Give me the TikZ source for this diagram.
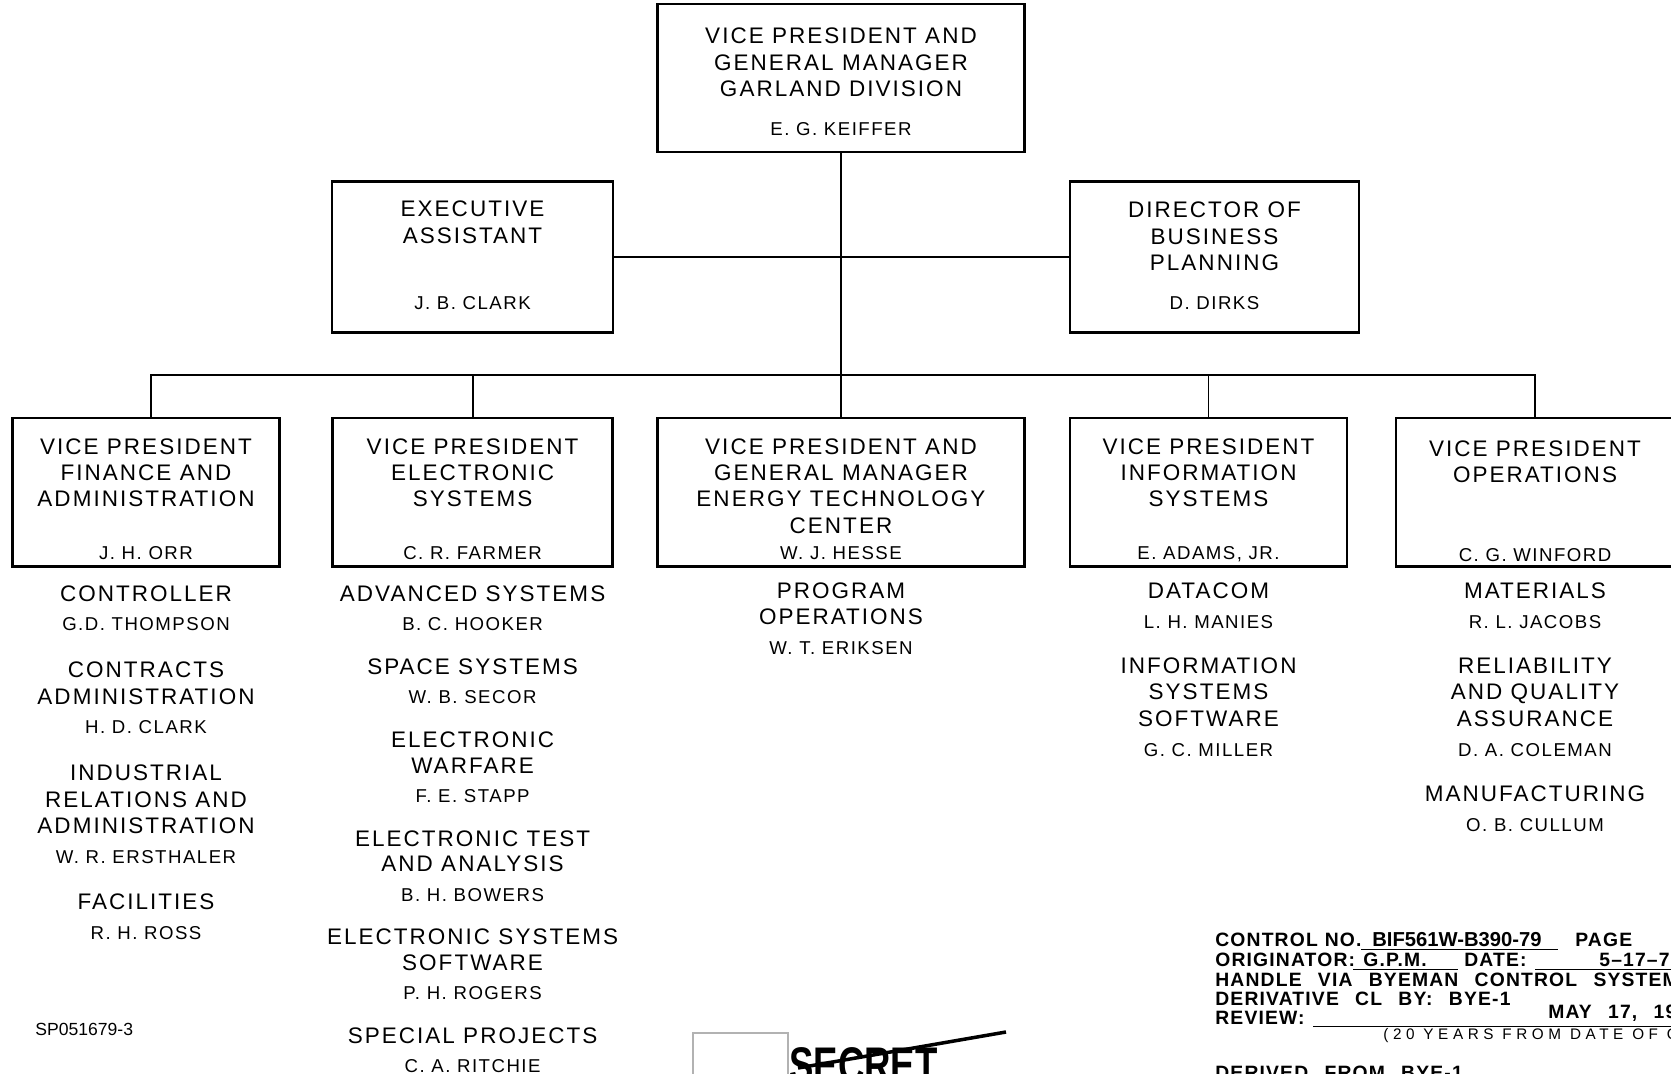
\documentclass[tikz,border=0pt]{standalone}
\usepackage{fontspec}
\setmainfont{Liberation Sans}
\newfontfamily\ttlfont[LetterSpace=9]{Liberation Sans}
\newfontfamily\nmfont[LetterSpace=8]{Liberation Sans}
\newfontfamily\ctlfont[LetterSpace=6,WordSpace=2.5]{Liberation Sans}
\newfontfamily\smlfont[LetterSpace=30]{Liberation Sans}
\usepackage{tikz}
\usetikzlibrary{positioning}
\newcommand{\who}[1]{{\nmfont\fontsize{10.6}{12}\selectfont #1}}

\begin{document}
\begin{tikzpicture}[x=0.02cm, y=-0.02cm, node distance=16pt,
  box/.style={draw, line width=1.6pt, minimum height=2.98cm, inner sep=0pt},
  ttl/.style={font=\ttlfont\fontsize{12.8}{15}\selectfont, align=center, inner sep=0pt},
  lst/.style={font=\ttlfont\fontsize{12.8}{#1}\selectfont, align=center, inner sep=0pt},
  lst/.default=15pt,
  nm/.style={font=\nmfont\fontsize{10.6}{12}\selectfont, inner sep=0pt, text depth=0pt},
  wire/.style={line width=1.1pt},
  ctl/.style={font=\ctlfont\bfseries\fontsize{11}{12}\selectfont, inner sep=0pt, anchor=base west},
  uline/.style={line width=0.6pt}]
  \useasboundingbox (0,0) rectangle (1671,1074);
  \clip (0,0) rectangle (1671,1074);

  \node[box, minimum width=7.34cm, minimum height=2.96cm] (gm) at (841,78) {};
  \node[ttl, below=0.5cm of gm.north] (gmt) {VICE PRESIDENT AND\\GENERAL MANAGER\\GARLAND DIVISION};
  \node[nm, above=0.36cm of gm.south] (gmn) {E. G. KEIFFER};

  \node[box, minimum width=5.62cm, minimum height=3.03cm] (ea) at (472.5,257) {};
  \node[ttl, below=0.42cm of ea.north] (eat) {EXECUTIVE\\ASSISTANT};
  \node[nm, above=0.48cm of ea.south] (ean) {J. B. CLARK};

  \node[box, minimum width=5.78cm, minimum height=3.03cm] (bp) at (1214.5,257) {};
  \node[ttl, below=0.44cm of bp.north] (bpt) {DIRECTOR OF\\BUSINESS\\PLANNING};
  \node[nm, above=0.48cm of bp.south] (bpn) {D. DIRKS};

  \node[box, minimum width=5.33cm] (fin) at (146,492.4) {};
  \node[ttl, below=0.43cm of fin.north] {VICE PRESIDENT\\FINANCE AND\\ADMINISTRATION};
  \node[nm, above=0.17cm of fin.south] {J. H. ORR};

  \node[box, minimum width=5.61cm] (els) at (472.6,492.4) {};
  \node[ttl, below=0.43cm of els.north] {VICE PRESIDENT\\ELECTRONIC\\SYSTEMS};
  \node[nm, above=0.17cm of els.south] {C. R. FARMER};

  \node[box, minimum width=7.33cm] (etc) at (841,492.4) {};
  \node[ttl, below=0.43cm of etc.north] {VICE PRESIDENT AND\\GENERAL MANAGER\\ENERGY TECHNOLOGY\\CENTER};
  \node[nm, above=0.17cm of etc.south] {W. J. HESSE};

  \node[box, minimum width=5.54cm] (ifs) at (1208.5,492.4) {};
  \node[ttl, below=0.43cm of ifs.north] {VICE PRESIDENT\\INFORMATION\\SYSTEMS};
  \node[nm, above=0.17cm of ifs.south] {E. ADAMS, JR.};

  \node[box, minimum width=5.56cm] (ops) at (1535,492.4) {};
  \node[ttl, below=0.47cm of ops.north] {VICE PRESIDENT\\OPERATIONS};
  \node[nm, above=0.12cm of ops.south] {C. G. WINFORD};

  \coordinate (bus) at (841,375);
  \draw[wire] (gm.south) -- (etc.north);
  \draw[wire] (ea.east) -- (bp.west);
  \draw[wire] ([xshift=0.1cm]fin.north) |- (bus) -| (ops.north);
  \draw[wire] (els.north) -- (els.north |- bus);
  \draw[wire] (ifs.north) -- (ifs.north |- bus);

  \node[lst=15.3pt, below=0.34cm of fin.south] (f1) {CONTROLLER\\[1.5pt]\who{G.D. THOMPSON}};
  \node[lst=15.3pt, below=17pt of f1] (f2) {CONTRACTS\\ADMINISTRATION\\[1.5pt]\who{H. D. CLARK}};
  \node[lst=15.3pt, below=17pt of f2] (f3) {INDUSTRIAL\\RELATIONS AND\\ADMINISTRATION\\[1.5pt]\who{W. R. ERSTHALER}};
  \node[lst=15.3pt, below=17pt of f3] (f4) {FACILITIES\\[1.5pt]\who{R. H. ROSS}};

  \node[lst=14.5pt, below=0.34cm of els.south] (e1) {ADVANCED SYSTEMS\\[2.2pt]\who{B. C. HOOKER}};
  \node[lst=14.5pt, below=15.5pt of e1] (e2) {SPACE SYSTEMS\\[2.2pt]\who{W. B. SECOR}};
  \node[lst=14.5pt, below=15.5pt of e2] (e3) {ELECTRONIC\\WARFARE\\[2.2pt]\who{F. E. STAPP}};
  \node[lst=14.5pt, below=15.5pt of e3] (e4) {ELECTRONIC TEST\\AND ANALYSIS\\[2.2pt]\who{B. H. BOWERS}};
  \node[lst=14.5pt, below=15.5pt of e4] (e5) {ELECTRONIC SYSTEMS\\SOFTWARE\\[2.2pt]\who{P. H. ROGERS}};
  \node[lst=14.5pt, below=15.5pt of e5] (e6) {SPECIAL PROJECTS\\[2.2pt]\who{C. A. RITCHIE}};

  \node[lst, below=0.28cm of etc.south] (t1) {PROGRAM\\OPERATIONS\\[1.7pt]\who{W. T. ERIKSEN}};

  \node[lst=15.2pt, below=0.28cm of ifs.south] (i1) {DATACOM\\[2pt]\who{L. H. MANIES}};
  \node[lst=15.2pt, below=of i1] (i2) {INFORMATION\\SYSTEMS\\SOFTWARE\\[2pt]\who{G. C. MILLER}};

  \node[lst=15.2pt, below=0.28cm of ops.south] (o1) {MATERIALS\\[2pt]\who{R. L. JACOBS}};
  \node[lst=15.2pt, below=of o1] (o2) {RELIABILITY\\AND QUALITY\\ASSURANCE\\[2pt]\who{D. A. COLEMAN}};
  \node[lst=15.2pt, below=of o2] (o3) {MANUFACTURING\\[2pt]\who{O. B. CULLUM}};

  \node[anchor=west, inner sep=0pt, font=\fontsize{10}{12}\selectfont] (spn) at (35,1029.5) {SP051679-3};

  \draw[gray!60, line width=0.6pt] (693,1033) rectangle (788,1100);
  \node[anchor=north west, inner sep=0pt, font=\bfseries\fontsize{28.5}{30}\selectfont] (sec) at (789,1047) {\scalebox{0.73}[1]{SECRET}};
  \draw[line width=2pt] (798,1068) -- (1006,1032);

  \node[ctl] (cno) at (1215,946) {CONTROL\kern4pt NO.};
  \node[ctl, font=\bfseries\fontsize{11.5}{12}\selectfont] (cval) at (1372,946) {BIF561W-B390-79};
  \node[ctl] (pg) at (1575,946) {PAGE};
  \draw[uline] (1361,949.5) -- (1558,949.5);
  \node[ctl] (org) at (1215,966) {ORIGINATOR:};
  \node[ctl] (gpm) at (1363,966) {G.P.M.};
  \draw[uline] (1353,969.5) -- (1458,969.5);
  \node[ctl] (dte) at (1464,966) {DATE:};
  \draw[uline] (1535,969.5) -- (1680,969.5);
  \node[ctl] (dval) at (1599,966) {5–17–79};
  \node[ctl] (hdl) at (1215,986.5) {HANDLE VIA BYEMAN CONTROL SYSTEM};
  \node[ctl] (dcl) at (1215,1005.5) {DERIVATIVE CL BY: BYE-1};
  \node[ctl] (rev) at (1215,1024) {REVIEW:};
  \draw[uline] (1313,1026.5) -- (1680,1026.5);
  \node[ctl] (rdt) at (1548,1018.5) {MAY 17, 1999};
  \node[ctl, font=\smlfont\fontsize{8.7}{10}\selectfont] (yrs) at (1383,1039) {(20 YEARS FROM DATE OF ORIGIN)};
  \node[ctl] (dfr) at (1215,1079) {DERIVED FROM BYE-1};
\end{tikzpicture}
\end{document}
